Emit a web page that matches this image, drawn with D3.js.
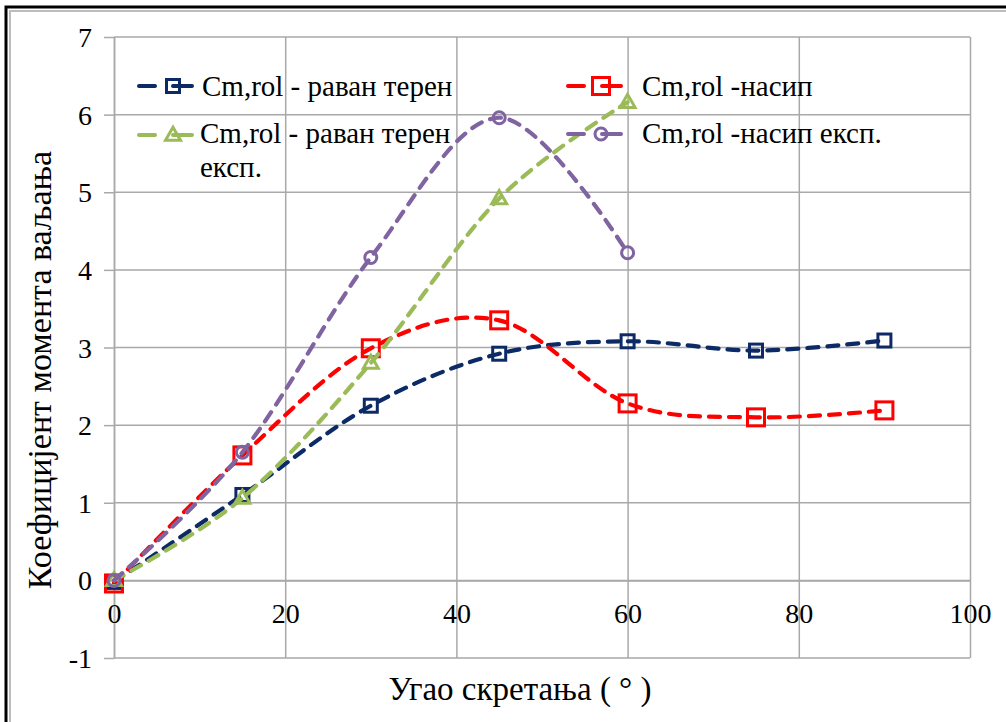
<!DOCTYPE html>
<html>
<head>
<meta charset="utf-8">
<script src="https://cdn.jsdelivr.net/npm/d3@7"></script>
</head>
<body style="margin:0;padding:0;background:#fff">
<svg id="chart" width="1006" height="722"></svg>
<script>
const angles = [0, 15, 30, 45, 60, 75, 90];
const anglesExp = [0, 15, 30, 45, 60];
const ravanTeren = [-0.02, 1.1, 2.25, 2.92, 3.08, 2.96, 3.09];
const nasip = [-0.04, 1.61, 2.99, 3.35, 2.28, 2.1, 2.19];
const ravanTerenExp = [0, 1.06, 2.8, 4.92, 6.16];
const nasipExp = [0, 1.65, 4.16, 5.96, 4.22];
const xTicks = [0, 20, 40, 60, 80, 100];
const yTicks = [-1, 0, 1, 2, 3, 4, 5, 6, 7];
const seriesNames = ["Cm,rol - раван терен", "Cm,rol -насип", "Cm,rol - раван терен експ.", "Cm,rol -насип експ."];

const FONT = "Liberation Serif";
const svg = d3.select("#chart");
const m = {left: 114, right: 970, top: 37, bottom: 658};

// outer frame
svg.append("rect").attr("x", 6).attr("y", 7).attr("width", 1010).attr("height", 730)
  .attr("fill", "none").attr("stroke", "#000").attr("stroke-width", 3);
svg.append("rect").attr("x", 10).attr("y", 11).attr("width", 1010).attr("height", 730)
  .attr("fill", "none").attr("stroke", "#bdbdbd").attr("stroke-width", 2);

const x = d3.scaleLinear().domain([0, 100]).range([m.left, m.right]);
const y = d3.scaleLinear().domain([-1, 7]).range([m.bottom, m.top]);

const gridColor = "#a9a9a9";

// vertical grid
svg.append("g").attr("transform", `translate(0,${m.bottom})`)
  .call(d3.axisBottom(x).tickValues(xTicks).tickSize(-(m.bottom - m.top)).tickFormat(""))
  .call(g => g.select(".domain").remove())
  .call(g => g.selectAll("line").attr("stroke", gridColor).attr("stroke-width", 1.5));

// y axis ticks + labels
svg.append("g").attr("transform", `translate(${m.left},0)`)
  .call(d3.axisLeft(y).tickValues(yTicks).tickSizeInner(10).tickSizeOuter(0).tickPadding(12).tickFormat(d3.format("d")))
  .attr("font-family", FONT)
  .call(g => g.select(".domain").attr("stroke", gridColor).attr("stroke-width", 1.5))
  .call(g => g.selectAll(".tick line").attr("stroke", gridColor).attr("stroke-width", 1.5))
  .call(g => g.selectAll(".tick text").attr("font-family", FONT).attr("font-size", 28).attr("fill", "#000").attr("dy", "0.34em").text(d => d < 0 ? "-" + Math.abs(d) : d));
// horizontal grid
svg.append("g")
  .selectAll("line").data(yTicks).join("line")
  .attr("x1", m.left).attr("x2", m.right)
  .attr("y1", d => y(d)).attr("y2", d => y(d))
  .attr("stroke", gridColor).attr("stroke-width", 1.5);

// x axis labels at y=0
svg.append("g").attr("transform", `translate(0,${y(0)})`)
  .call(d3.axisBottom(x).tickValues(xTicks).tickSize(0).tickPadding(23).tickFormat(d3.format("d")))
  .attr("font-family", FONT)
  .call(g => g.select(".domain").attr("stroke", gridColor).attr("stroke-width", 1.5))
  .call(g => g.selectAll(".tick text").attr("font-family", FONT).attr("font-size", 28).attr("fill", "#000"));

// axis titles
svg.append("text").attr("x", 520).attr("y", 700).attr("text-anchor", "middle")
  .attr("font-family", FONT).attr("font-size", 33)
  .text("Угао скретања ( ° )");
svg.append("text").attr("transform", "translate(51,370) rotate(-90)").attr("text-anchor", "middle")
  .attr("font-family", FONT).attr("font-size", 34)
  .text("Коефицијент момента ваљања");

const curve = d3.curveCatmullRom.alpha(0);
const dash = "11,9";
const series = [
  {xs: angles, ys: ravanTeren, color: "#0c2a66", marker: "square", size: 13},
  {xs: angles, ys: nasip, color: "#ff0000", marker: "square", size: 17},
  {xs: anglesExp, ys: ravanTerenExp, color: "#9bbb59", marker: "triangle", size: 15},
  {xs: anglesExp, ys: nasipExp, color: "#8064a2", marker: "circle", size: 13}
];

function drawMarker(g, s, cx, cy) {
  if (s.marker === "square") {
    g.append("rect").attr("x", cx - s.size / 2).attr("y", cy - s.size / 2)
      .attr("width", s.size).attr("height", s.size)
      .attr("fill", "none").attr("stroke", s.color).attr("stroke-width", 3);
  } else if (s.marker === "triangle") {
    const h = s.size * 0.87;
    g.append("path").attr("d", `M${cx},${cy - h * 0.6}L${cx + s.size / 2},${cy + h * 0.4}L${cx - s.size / 2},${cy + h * 0.4}Z`)
      .attr("fill", "none").attr("stroke", s.color).attr("stroke-width", 3);
  } else {
    g.append("circle").attr("cx", cx).attr("cy", cy).attr("r", s.size / 2 - 0.5)
      .attr("fill", "none").attr("stroke", s.color).attr("stroke-width", 3);
  }
}

const line = d3.line().x(d => x(d[0])).y(d => y(d[1])).curve(curve);
series.forEach(s => {
  const pts = s.xs.map((v, i) => [v, s.ys[i]]);
  const g = svg.append("g");
  g.append("path").attr("d", line(pts)).attr("fill", "none").attr("stroke", s.color)
    .attr("stroke-width", 4.2).attr("stroke-dasharray", dash).attr("stroke-linecap", "round");
  pts.forEach(p => drawMarker(g, s, x(p[0]), y(p[1])));
});

// legend
const legend = [
  {s: series[0], lx: 139, ly: 86, mx: 173, tx: 202, ty: 96, lines: ["Cm,rol - раван терен"]},
  {s: series[1], lx: 568, ly: 86, mx: 601, tx: 642, ty: 96, lines: ["Cm,rol -насип"]},
  {s: series[2], lx: 139, ly: 135, mx: 173, tx: 200, ty: 143, lines: ["Cm,rol - раван терен", "експ."]},
  {s: series[3], lx: 568, ly: 134, mx: 601, tx: 642, ty: 143, lines: ["Cm,rol -насип експ."]}
];
legend.forEach(L => {
  const g = svg.append("g");
  g.append("line").attr("x1", L.lx).attr("x2", L.lx + 53).attr("y1", L.ly).attr("y2", L.ly)
    .attr("stroke", L.s.color).attr("stroke-width", 4).attr("stroke-linecap", "round")
    .attr("stroke-dasharray", "16,18,19");
  drawMarker(g, L.s, L.mx, L.ly);
  L.lines.forEach((t, j) => {
    g.append("text").attr("x", L.tx).attr("y", L.ty + j * 34).attr("font-size", 29)
      .attr("font-family", FONT).text(t);
  });
});
</script>
</body>
</html>
